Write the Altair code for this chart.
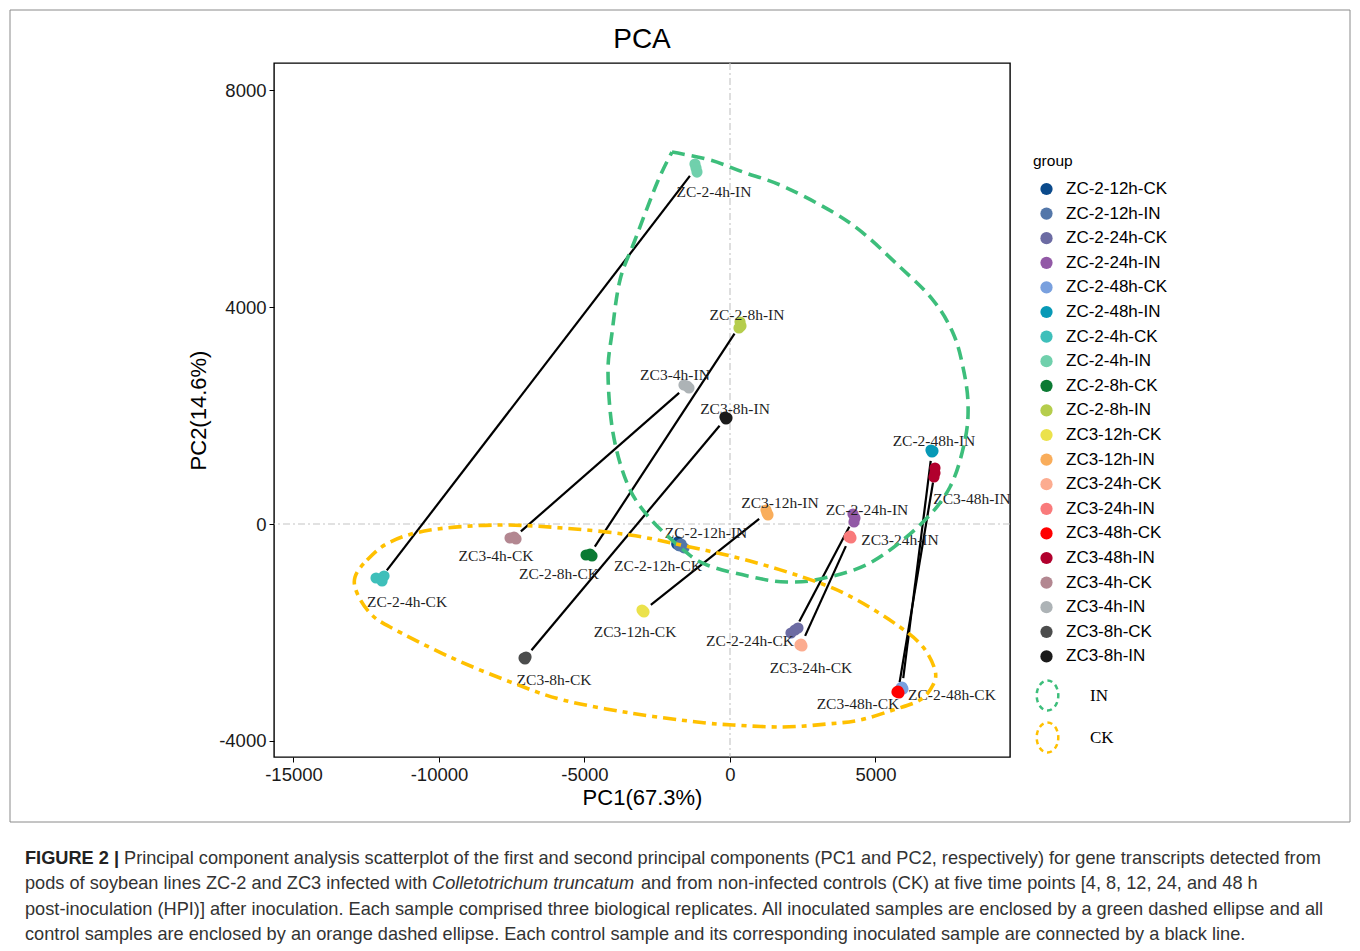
import math
import altair as alt
import pandas as pd

# ---------------- data ----------------
groups = ["ZC-2-12h-CK", "ZC-2-12h-IN", "ZC-2-24h-CK", "ZC-2-24h-IN", "ZC-2-48h-CK",
          "ZC-2-48h-IN", "ZC-2-4h-CK", "ZC-2-4h-IN", "ZC-2-8h-CK", "ZC-2-8h-IN",
          "ZC3-12h-CK", "ZC3-12h-IN", "ZC3-24h-CK", "ZC3-24h-IN", "ZC3-48h-CK",
          "ZC3-48h-IN", "ZC3-4h-CK", "ZC3-4h-IN", "ZC3-8h-CK", "ZC3-8h-IN"]
colors = ["#0B4A8B", "#5477A9", "#6C6BA3", "#9259A6", "#79A0DE",
          "#0799B6", "#3EBFBA", "#70D0AC", "#0B7A33", "#B5CD4C",
          "#EBE24B", "#F9AD5B", "#FCAC90", "#F97A7B", "#FF0000",
          "#B1002D", "#B38791", "#ADB3B6", "#4C4D4D", "#1B1B1B"]

# three biological replicates per group (PC1, PC2)
pc1_reps = [[-1790, -1720, -1830], [-1680, -1580, -1750], [2096, 2233, 2336], [4226, 4295, 4261],
            [5910, 5944, 5876], [6906, 6975, 6941], [-12163, -11888, -11957], [-1203, -1168, -1134],
            [-4948, -4810, -4742], [344, 378, 309], [-2989, -2955, -3024], [1237, 1271, 1306],
            [2405, 2474, 2440], [4089, 4158, 4123], [5738, 5807, 5772], [7044, 7044, 7010],
            [-7559, -7422, -7353], [-1581, -1477, -1409], [-7078, -7009, -7044], [-172, -103, -137]]
pc2_reps = [[-330, -400, -370], [-370, -440, -400], [-2009, -1954, -1917], [184, 111, 37],
            [-3005, -3042, -3023], [1364, 1346, 1327], [-995, -958, -1051], [6636, 6562, 6488],
            [-571, -553, -590], [3723, 3650, 3613], [-1604, -1622, -1585], [258, 203, 166],
            [-2230, -2249, -2212], [-240, -258, -221], [-3097, -3115, -3078], [1032, 940, 866],
            [-258, -240, -276], [2562, 2544, 2507], [-2470, -2452, -2488], [1972, 1954, 1935]]

# sample-name annotations (PC1, PC2 of the label anchor)
label_x = [-2474, -825, 687, 4707, 7628, 7009, -11098, -550, -5876, 584,
           -3264, 1718, 2783, 5841, 4398, 8315, -8040, -1890, -6047, 172]
label_y = [-774, -166, -2157, 258, -3152, 1530, -1438, 6120, -922, 3852,
           -1991, 387, -2654, -295, -3318, 461, -590, 2746, -2876, 2120]

# control -> inoculated connections
pairs = [("ZC-2-4h-CK", "ZC-2-4h-IN"), ("ZC3-4h-CK", "ZC3-4h-IN"),
         ("ZC-2-8h-CK", "ZC-2-8h-IN"), ("ZC3-8h-CK", "ZC3-8h-IN"),
         ("ZC-2-12h-CK", "ZC-2-12h-IN"), ("ZC3-12h-CK", "ZC3-12h-IN"),
         ("ZC-2-24h-CK", "ZC-2-24h-IN"), ("ZC3-24h-CK", "ZC3-24h-IN"),
         ("ZC-2-48h-CK", "ZC-2-48h-IN"), ("ZC3-48h-CK", "ZC3-48h-IN")]

# hand-drawn enclosing outlines (PC1, PC2)
in_outline_x = [-1993, -687, 447, 1959, 4124, 5842, 6976, 7663, 8006, 8179, 8075, 7560, 6529, 4811,
                3093, 1959, 928, -790, -1718, -2852, -3539, -4020, -4192, -4055, -3780, -3264, -2508, -1993]
in_outline_y = [6857, 6710, 6488, 6193, 5548, 4737, 4129, 3521, 2894, 2230, 1548, 682, -18, -719,
                -1014, -1069, -995, -756, -424, 166, 756, 1677, 2783, 3521, 4498, 5235, 6286, 6857]
ck_outline_x = [-12885, -12473, -11682, -10308, -8006, -5738, -3436, -1374, 687, 2989, 4364, 5841,
                6631, 7044, 6975, 6528, 5601, 4467, 3333, 1821, 103, -1134, -3436, -5738, -7456,
                -9621, -11682, -12370, -12816]
ck_outline_y = [-977, -664, -332, -111, -18, -74, -203, -424, -682, -1069, -1401, -1899,
                -2267, -2691, -2968, -3244, -3429, -3613, -3687, -3742, -3705, -3650, -3484, -3244, -2931,
                -2452, -1899, -1641, -1272]

x_ticks = [-15000, -10000, -5000, 0, 5000]
y_ticks = [-4000, 0, 4000, 8000]
x_domain = [-15670, 9622]
y_domain = [-4295, 8498]

caption_l1 = ("Principal component analysis scatterplot of the first and second principal components "
              "(PC1 and PC2, respectively) for gene transcripts detected from")
caption_l2a = "pods of soybean lines ZC-2 and ZC3 infected with"
caption_l2b = "Colletotrichum truncatum"
caption_l2c = "and from non-infected controls (CK) at five time points [4, 8, 12, 24, and 48 h"
caption_l3 = ("post-inoculation (HPI)] after inoculation. Each sample comprised three biological "
              "replicates. All inoculated samples are enclosed by a green dashed ellipse and all")
caption_l4 = ("control samples are enclosed by an orange dashed ellipse. Each control sample and its "
              "corresponding inoculated sample are connected by a black line.")

# ---------------- layout ----------------
W, H = 736, 694          # plot area
OX, OY = 274, 63         # plot origin on the page
SANS = "Liberation Sans"
SERIF = "Liberation Serif"
CAP = 18.2

# ---------------- tables ----------------
pts = pd.DataFrame([
    {"group": g, "x": pc1_reps[i][r], "y": pc2_reps[i][r], "ord": i * 3 + r}
    for i, g in enumerate(groups) for r in range(3)
])
labels = pd.DataFrame({"group": groups, "x": label_x, "y": label_y})

means = {g: (sum(pc1_reps[i]) / 3, sum(pc2_reps[i]) / 3) for i, g in enumerate(groups)}
sx = W / (x_domain[1] - x_domain[0])
sy = H / (y_domain[1] - y_domain[0])
gap = 10
seg_rows = []
for ck, inn in pairs:
    (x0, y0), (x1, y1) = means[ck], means[inn]
    L = math.hypot((x1 - x0) * sx, (y1 - y0) * sy)
    if L < 3 * gap:
        continue
    t = gap / L
    seg_rows.append({"x": x0 + t * (x1 - x0), "y": y0 + t * (y1 - y0),
                     "x2": x1 - t * (x1 - x0), "y2": y1 - t * (y1 - y0)})
segs = pd.DataFrame(seg_rows)

in_df = pd.DataFrame({"type": "IN", "idx": range(len(in_outline_x)), "x": in_outline_x, "y": in_outline_y})
ck_df = pd.DataFrame({"type": "CK", "idx": range(len(ck_outline_x)), "x": ck_outline_x, "y": ck_outline_y})

one = pd.DataFrame({"a": [0]})

# ---------------- encodings ----------------
x_enc = alt.X("x:Q", scale=alt.Scale(domain=x_domain, nice=False, zero=False),
              axis=alt.Axis(title="PC1(67.3%)", values=x_ticks, labelExpr="'' + datum.value",
                            grid=False, domain=False, ticks=True, tickColor="black", tickSize=5,
                            tickWidth=1, labelFont=SANS, labelFontSize=18.5, labelColor="#1a1a1a",
                            labelPadding=3, titleFont=SANS, titleFontSize=22, titleFontWeight="normal",
                            titleColor="black", titlePadding=4))
y_enc = alt.Y("y:Q", scale=alt.Scale(domain=y_domain, nice=False, zero=False),
              axis=alt.Axis(title="PC2(14.6%)", values=y_ticks, labelExpr="'' + datum.value",
                            grid=False, domain=False, ticks=True, tickColor="black", tickSize=5,
                            tickWidth=1, labelFont=SANS, labelFontSize=18.5, labelColor="#1a1a1a",
                            labelPadding=3, titleFont=SANS, titleFontSize=22, titleFontWeight="normal",
                            titleColor="black", titlePadding=8))

stroke_enc = alt.Stroke("type:N", scale=alt.Scale(domain=["IN", "CK"], range=["#3DBE7B", "#FFC000"]),
                        legend=alt.Legend(title=None, orient="none", legendX=1031 - OX, legendY=679 - OY,
                                          padding=0, labelFont=SERIF, labelFontSize=17, labelColor="black",
                                          symbolType="M0,-1A0.72,1,0,1,1,0,1A0.72,1,0,1,1,0,-1Z",
                                          symbolSize=900, symbolStrokeWidth=2.5, symbolDash=[5, 4],
                                          symbolFillColor="transparent", labelOffset=26, rowPadding=1))

# ---------------- layers ----------------
# invisible page-sized box: fixes the page extent so the plot origin lands where it should
page = alt.Chart(one).mark_rect(opacity=0).encode(
    x=alt.value(-OX), x2=alt.value(1360 - OX), y=alt.value(-OY), y2=alt.value(951 - OY))

frame = alt.Chart(one).mark_rect(fill="transparent", stroke="#8a8a8a", strokeWidth=1).encode(
    x=alt.value(10 - OX), x2=alt.value(1350 - OX), y=alt.value(10 - OY), y2=alt.value(822 - OY))

zero_v = alt.Chart(pd.DataFrame({"x": [0]})).mark_rule(
    color="#C4C4C4", strokeWidth=1.1, strokeDash=[7, 3, 2, 3]).encode(x=x_enc)
zero_h = alt.Chart(pd.DataFrame({"y": [0]})).mark_rule(
    color="#C4C4C4", strokeWidth=1.1, strokeDash=[7, 3, 2, 3]).encode(y=y_enc)

seg_layer = alt.Chart(segs).mark_rule(color="black", strokeWidth=2.2).encode(
    x=x_enc, y=y_enc, x2="x2:Q", y2="y2:Q")

pt_layer = alt.Chart(pts).mark_circle(size=125, opacity=1).encode(
    x=x_enc, y=y_enc,
    color=alt.Color("group:N", scale=alt.Scale(domain=groups, range=colors),
                    legend=alt.Legend(title="group", orient="none", legendX=1033 - OX, legendY=154 - OY,
                                      padding=0, titleFont=SANS, titleFontSize=15.5,
                                      titleFontWeight="normal", titleColor="black", titlePadding=11,
                                      labelFont=SANS, labelFontSize=17, labelColor="black",
                                      symbolType="circle", symbolSize=150, symbolStrokeWidth=0,
                                      rowPadding=6.6, labelOffset=11, symbolOffset=5)),
    order=alt.Order("ord:Q"))

lab_layer = alt.Chart(labels).mark_text(font=SERIF, fontSize=15.5, color="#1f1f1f",
                                        align="center", baseline="middle").encode(
    x=x_enc, y=y_enc, text="group:N")

in_layer = alt.Chart(in_df).mark_line(interpolate="cardinal", strokeWidth=3.6,
                                      strokeDash=[13, 7]).encode(
    x=x_enc, y=y_enc, stroke=stroke_enc, order=alt.Order("idx:Q"))
ck_layer = alt.Chart(ck_df).mark_line(interpolate="cardinal-closed", strokeWidth=3.6,
                                      strokeDash=[13, 6, 5, 6]).encode(
    x=x_enc, y=y_enc, stroke=stroke_enc, order=alt.Order("idx:Q"))

def txt(text, px, py, size, font=SANS, weight="normal", style="normal", align="left", color="#333333"):
    return alt.Chart(one).mark_text(font=font, fontSize=size, fontWeight=weight, fontStyle=style,
                                    align=align, baseline="middle", color=color).encode(
        x=alt.value(px - OX), y=alt.value(py - OY), text=alt.value(text))

title = txt("PCA", 642, 40, 28, align="center", color="black")
cap = [
    txt("FIGURE 2 |", 25, 859, CAP, weight="bold", color="#222222"),
    txt(caption_l1, 124, 859, CAP),
    txt(caption_l2a, 25, 884, CAP),
    txt(caption_l2b, 432, 884, CAP, style="italic"),
    txt(caption_l2c, 641, 884, CAP),
    txt(caption_l3, 25, 910, CAP),
    txt(caption_l4, 25, 935, CAP),
]

chart = alt.layer(page, frame, zero_v, zero_h, seg_layer, pt_layer, lab_layer, in_layer, ck_layer,
                  title, *cap).properties(
    width=W, height=H, padding=0, background="white"
).configure_view(stroke="black", strokeWidth=1.4)

chart.save("out.html", embed_options={"renderer": "svg", "actions": False})
